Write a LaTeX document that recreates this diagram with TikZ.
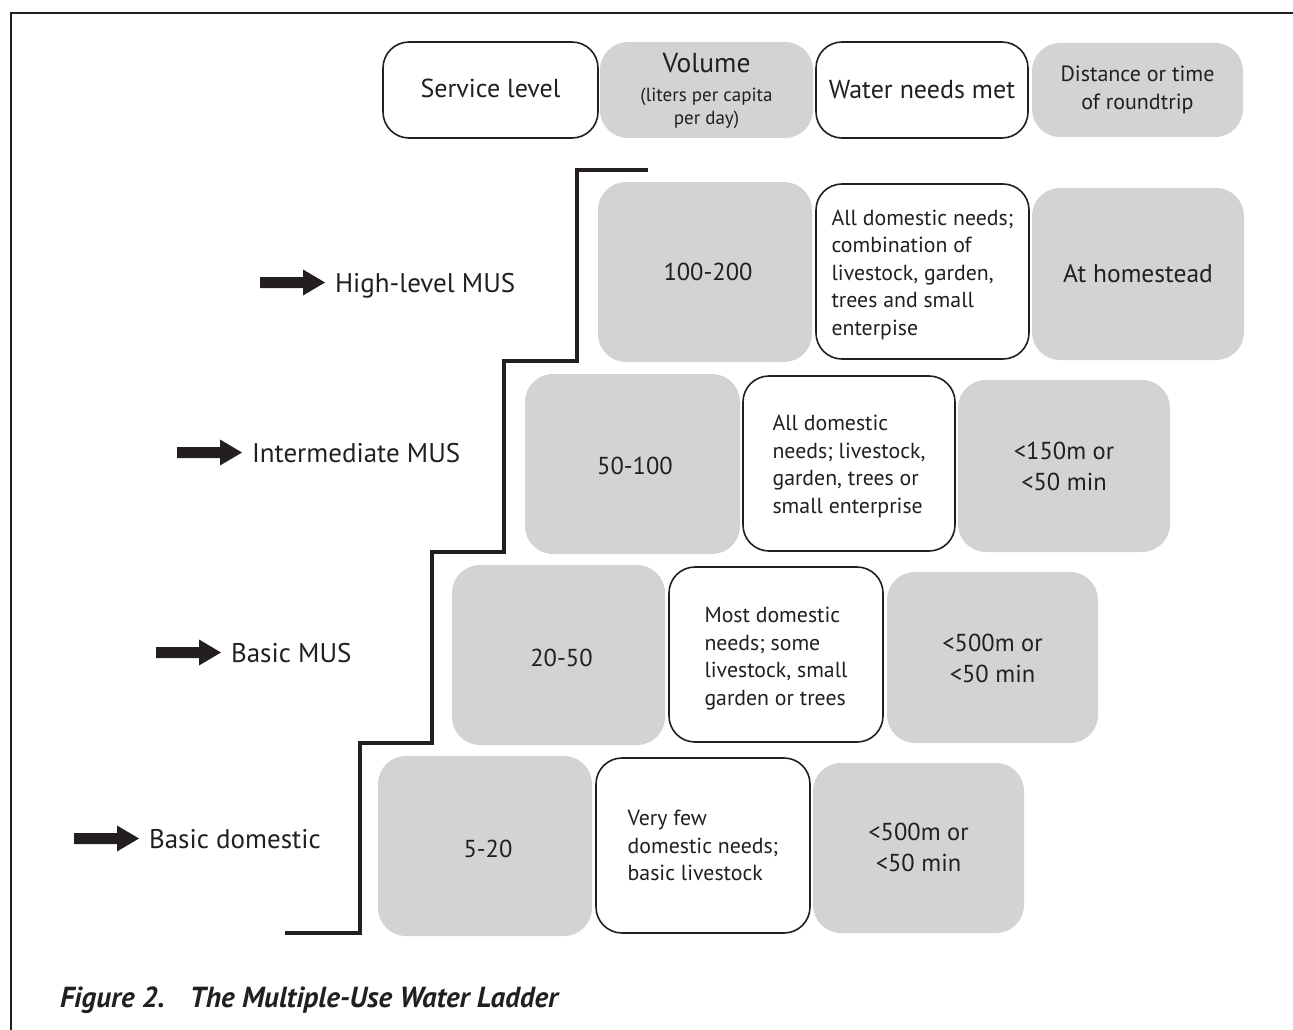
\documentclass[tikz,border=0pt]{standalone}
\usepackage{fontspec}
\setmainfont{PT Sans}
\definecolor{ink}{HTML}{231F20}
\definecolor{panel}{HTML}{D1D3D4}

% box given by its corners (x1,y1) and (x2,y2)
\newcommand\cellbox[7]{%
  \node[#1, minimum width={(#4)-(#2)}, minimum height={(#5)-(#3)}]
    (#6) at ({((#2)+(#4))/2},{((#3)+(#5))/2}) {#7};}
% move a text block down without changing its reported size
\newcommand\lowerby[2]{\raisebox{-#1}[\height][\depth]{#2}}
% thick block arrow ending just before a label
\newcommand\ladderarrow[1]{%
  \fill[ink] ([xshift=-75pt,yshift=9.5pt]#1.base west) ++(0,-5.5) -- ++(43,0) -- ++(0,-7.5)
    -- ++(22,13) -- ++(-22,13) -- ++(0,-7.5) -- ++(-43,0) -- cycle;}

\begin{document}
\begin{tikzpicture}[x=1pt,y=-1pt,
  every node/.style={text=ink, inner sep=0pt, outer sep=0pt},
  graybox/.style={fill=panel, draw=none, rounded corners=28pt, align=center},
  whitebox/.style={fill=white, draw=ink, line width=1.6pt, rounded corners=26pt, align=center},
  headtext/.style={font=\fontsize{26}{30}\selectfont},
  disttext/.style={font=\fontsize{22}{28}\selectfont},
  voltext/.style={font=\fontsize{19}{23}\selectfont},
  valtext/.style={font=\fontsize{24.5}{31}\selectfont},
  needtext/.style={font=\fontsize{21.8}{27.5}\selectfont},
  rowlabel/.style={font=\fontsize{27}{32}\selectfont, anchor=base west},
  stairline/.style={draw=ink, line width=4pt},
  frameline/.style={draw=ink, line width=2pt}]
\useasboundingbox (0,0) rectangle (1293,1030);

% frame
\draw[frameline] (1293,13) -- (11,13) -- (11,1030);

% column headers
\cellbox{whitebox,headtext}{383}{42}{598}{138}{svc}{\raisebox{2pt}[\height][\depth]{Service level}}
\cellbox{graybox,voltext}{600}{42}{813}{138}{vol}%
  {\lowerby{2.5pt}{\begin{tabular}{@{}c@{}}%
    {\fontsize{27.5}{30}\selectfont Volume}\\[5.5pt]
    (liters per capita\\
    per day)\end{tabular}}}
\cellbox{whitebox,headtext}{816}{42}{1028}{138}{need}{Water needs met}
\cellbox{graybox,disttext}{1032}{43}{1243}{137}{dist}{Distance or time\\of roundtrip}

% high-level MUS
\cellbox{graybox,valtext}{598}{182}{812}{362}{vA}{\hspace{6pt}100-200}
\cellbox{whitebox,needtext}{816}{184}{1029}{359}{nA}{\lowerby{3pt}{\begin{tabular}{@{}l@{}}All domestic needs;\\combination of\\livestock, garden,\\trees and small\\enterpise\end{tabular}}}
\cellbox{graybox,font=\fontsize{25.5}{31}\selectfont}{1032}{188}{1244}{360}{dA}{At homestead}

% intermediate MUS
\cellbox{graybox,valtext}{525}{374}{740}{554}{vB}{\lowerby{2pt}{\hspace{5pt}50-100}}
\cellbox{whitebox,needtext}{743}{376}{955}{551}{nB}{\lowerby{3pt}{\begin{tabular}{@{}l@{}}All domestic\\needs; livestock,\\garden, trees or\\small enterprise\end{tabular}}}
\cellbox{graybox,valtext}{958}{380}{1170}{552}{dB}{\lowerby{3pt}{\begin{tabular}{@{}c@{}}<150m or\\<50 min\end{tabular}}}

% basic MUS
\cellbox{graybox,valtext}{452}{565}{665}{745}{vC}{\lowerby{3pt}{\hspace{6pt}20-50}}
\cellbox{whitebox,needtext}{669}{567}{883}{742}{nC}{\lowerby{4pt}{\begin{tabular}{@{}l@{}}Most domestic\\needs; some\\livestock, small\\garden or trees\end{tabular}}}
\cellbox{graybox,valtext}{887}{572}{1098}{743}{dC}{\lowerby{3pt}{\begin{tabular}{@{}c@{}}<500m or\\<50 min\end{tabular}}}

% basic domestic
\cellbox{graybox,valtext}{378}{756}{592}{936}{vD}{\lowerby{3pt}{\hspace{6pt}5-20}}
\cellbox{whitebox,needtext}{596}{758}{810}{933}{nD}{\lowerby{2pt}{\begin{tabular}{@{}l@{}}Very few\\domestic needs;\\basic livestock\end{tabular}}}
\cellbox{graybox,valtext}{813}{763}{1024}{933}{dD}{\lowerby{2pt}{\begin{tabular}{@{}c@{}}<500m or\\<50 min\end{tabular}}}

% the ladder
\draw[stairline] (648,170) -- (577,170) -- (577,361) -- (504,361) -- (504,552)
  -- (432,552) -- (432,743) -- (360,743) -- (360,933) -- (285,933);

% service levels
\node[rowlabel] (lA) at (335,292) {High-level MUS};
\node[rowlabel] (lB) at (252,462) {Intermediate MUS};
\node[rowlabel] (lC) at (231,662) {Basic MUS};
\node[rowlabel] (lD) at (149,848) {Basic domestic};
\ladderarrow{lA}
\ladderarrow{lB}
\ladderarrow{lC}
\ladderarrow{lD}

% caption
\node[anchor=base west, font=\fontsize{29}{33}\selectfont\bfseries\itshape] (cap)
  at (60,1007) {Figure 2.\hspace{25pt}The Multiple-Use Water Ladder};
\end{tikzpicture}
\end{document}
